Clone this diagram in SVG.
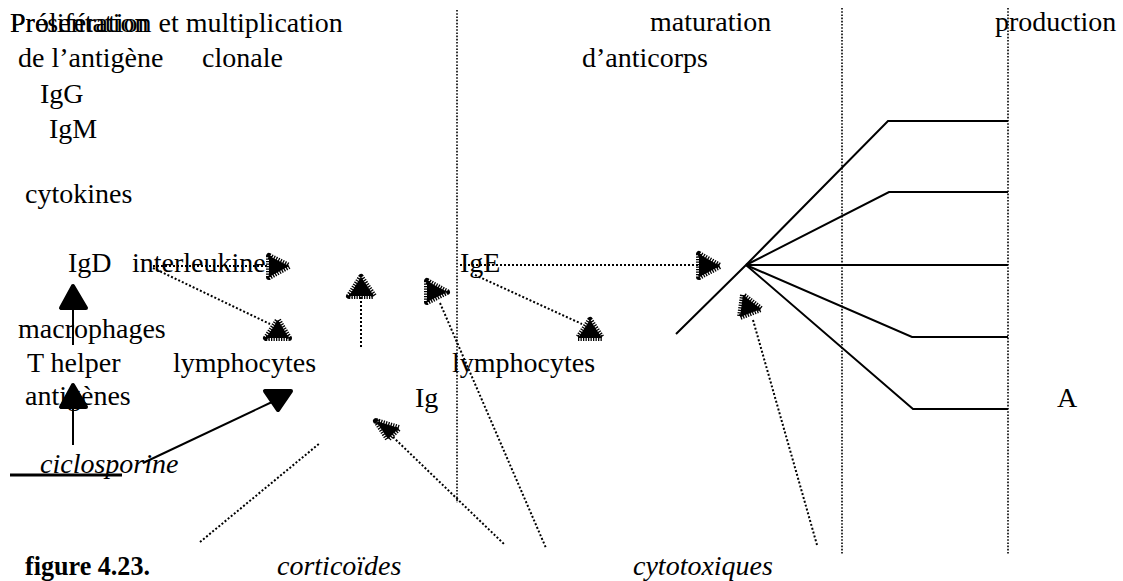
<svg xmlns="http://www.w3.org/2000/svg" width="1123" height="581" viewBox="0 0 1123 581">
<style>
text{font-family:"Liberation Serif","Times New Roman",serif;font-size:28px;fill:#000}
.it{font-style:italic}
.bd{font-weight:bold}
.div{stroke:#000;stroke-width:1.6;stroke-dasharray:1.6 1.6;fill:none}
.dot{stroke:#000;stroke-width:2;stroke-dasharray:2 2;fill:none}
.sol{stroke:#000;stroke-width:2;fill:none}
.hairy{fill:#000;stroke:#000;stroke-width:6;stroke-dasharray:1.3 1.2;stroke-linejoin:round}
.solid-head{fill:#000;stroke:#000;stroke-width:4;stroke-linejoin:round}
</style>
<rect width="1123" height="581" fill="#fff"/>
<g id="dividers">
<line class="div" x1="457" y1="10" x2="457" y2="503"/>
<line class="div" x1="842" y1="8" x2="842" y2="555"/>
<line class="div" x1="1008" y1="8" x2="1008" y2="555"/>
</g>
<g id="headers">
<text x="10" y="32">Présentation</text>
<text x="10" y="32">Prolifération et multiplication</text>
<text x="18" y="67">de l’antigène</text>
<text x="202" y="67">clonale</text>
<text x="650" y="31">maturation</text>
<text x="582" y="67">d’anticorps</text>
<text x="995" y="31">production</text>
</g>
<g id="n-IgG"><text x="40" y="103">IgG</text></g>
<g id="n-IgM"><text x="49" y="138">IgM</text></g>
<g id="n-cytokines"><text x="25" y="203">cytokines</text></g>
<g id="n-IgD"><text x="68" y="272">IgD</text></g>
<g id="n-interleukine"><text x="132" y="272">interleukine</text></g>
<g id="n-macrophages"><text x="18" y="338">macrophages</text></g>
<g id="n-thelper"><text x="27" y="372">T helper</text></g>
<g id="n-lymphocytes1"><text x="173" y="372">lymphocytes</text></g>
<g id="n-antigenes"><text x="25" y="405">antigènes</text></g>
<g id="n-Ig"><text x="415" y="407">Ig</text></g>
<g id="n-ciclosporine"><text class="it" x="40" y="473">ciclosporine</text><line x1="10" y1="475" x2="122" y2="475" stroke="#000" stroke-width="3"/></g>
<g id="n-IgE"><text x="460" y="272">IgE</text></g>
<g id="n-lymphocytes2"><text x="452" y="372">lymphocytes</text></g>
<g id="n-A"><text x="1057" y="407">A</text></g>
<g id="n-figure"><text class="bd" x="25" y="575" textLength="125" lengthAdjust="spacingAndGlyphs">figure 4.23.</text></g>
<g id="n-corticoides"><text class="it" x="277" y="575">corticoïdes</text></g>
<g id="n-cytotoxiques"><text class="it" x="633" y="575">cytotoxiques</text></g>
<g id="fan">
<polyline class="sol" points="676,334 746,265 888,121 1008,121"/>
<polyline class="sol" points="746,265 889,192 1008,192"/>
<polyline class="sol" points="746,265 1008,265"/>
<polyline class="sol" points="746,265 912,337 1008,337"/>
<polyline class="sol" points="746,265 913,409 1008,409"/>
</g>
<g id="connectors">
<line class="sol" x1="73" y1="445" x2="73" y2="407"/>
<polygon class="solid-head" points="61,407 86,407 73,385"/>
<line class="sol" x1="73" y1="345" x2="73" y2="308"/>
<polygon class="solid-head" points="61,308 86,308 73,286"/>
<line class="sol" x1="143" y1="463" x2="272" y2="402"/>
<polygon class="solid-head" points="265,391 291,391 278,410"/>
<line class="dot" x1="153" y1="266" x2="269" y2="266"/>
<polygon class="hairy" points="269,256 269,277 289,266"/>
<line class="dot" x1="153" y1="268" x2="270" y2="324"/>
<polygon class="hairy" points="266,338 289,338 278,320"/>
<line class="dot" x1="361" y1="347" x2="361" y2="296"/>
<polygon class="hairy" points="349,296 374,296 361,277"/>
<line class="dot" x1="440" y1="303" x2="546" y2="548"/>
<polygon class="hairy" points="427,281 427,302 447,292"/>
<line class="dot" x1="460" y1="265" x2="699" y2="265"/>
<polygon class="hairy" points="699,254 699,277 720,266"/>
<line class="dot" x1="475" y1="275" x2="582" y2="324"/>
<polygon class="hairy" points="578,338 602,338 590,320"/>
<line class="dot" x1="753" y1="320" x2="817" y2="545"/>
<polygon class="hairy" points="743,295 740,317 761,309"/>
<line class="dot" x1="393" y1="437" x2="505" y2="545"/>
<polygon class="hairy" points="376,421 399,428 388,439"/>
<line class="dot" x1="200" y1="542" x2="320" y2="443"/>
</g>
</svg>
